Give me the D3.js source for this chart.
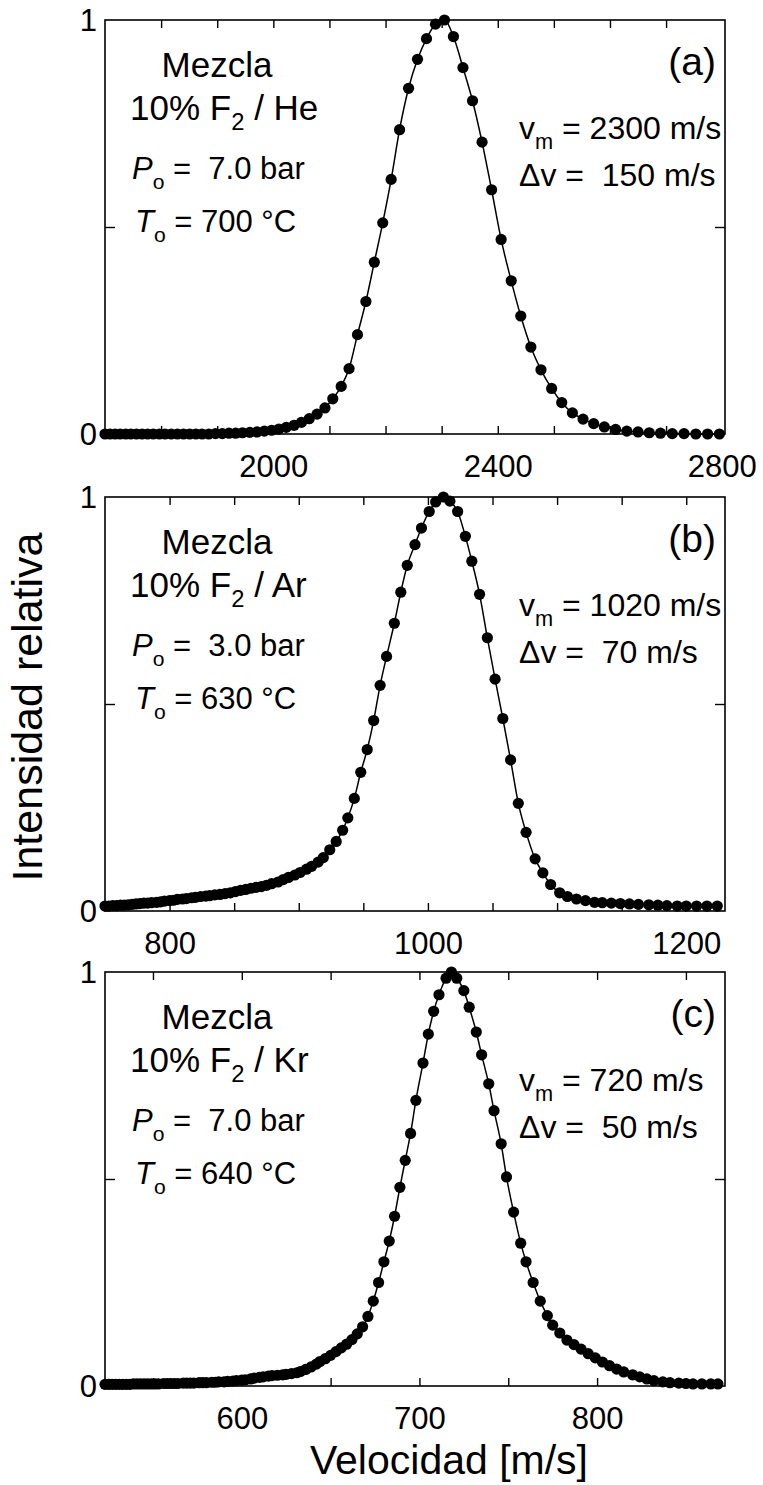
<!DOCTYPE html>
<html>
<head>
<meta charset="utf-8">
<script src="https://cdn.jsdelivr.net/npm/d3@7"></script>
<style>
  body { margin: 0; background: #fff; }
  svg text { font-family: "Liberation Sans", Arial, Helvetica, sans-serif; fill: #000; white-space: pre; }
</style>
</head>
<body>
<svg id="chart" width="763" height="1485"></svg>
<script>
// ---------- data: [velocity m/s, relative intensity] ----------
const seriesA = [
  [1700,0],[1709,0],[1718,0],[1727,0],[1737,0],[1746,0],[1756,0],[1766,0],[1776,0],[1786,0],
  [1797,0],[1807,0],[1818,0],[1829,0],[1840,0],[1851,0],[1862,0],[1873,0],[1885,0],[1897,.001],
  [1909,.001],[1921,.002],[1933,.002],[1945,.003],[1958,.004],[1971,.005],[1984,.007],[1997,.009],
  [2010,.012],[2023,.016],[2037,.021],[2050,.028],[2064,.037],[2078,.048],[2092,.063],[2106,.085],
  [2121,.115],[2135,.158],[2150,.24],[2165,.32],[2180,.415],[2195,.51],[2210,.615],[2225,.735],
  [2241,.835],[2257,.905],[2273,.955],[2289,.99],[2305,1.0],[2321,.96],[2338,.885],[2355,.805],
  [2372,.705],[2389,.59],[2406,.47],[2424,.37],[2441,.285],[2459,.21],[2477,.155],[2496,.11],
  [2514,.076],[2533,.051],[2552,.036],[2571,.025],[2590,.017],[2610,.011],[2630,.007],[2650,.005],
  [2670,.003],[2690,.002],[2711,.001],[2732,.001],[2753,0],[2774,0],[2795,0]
];
const seriesB = [
  [750,.012],[753,.012],[756,.013],[759,.013],[762,.014],[765,.014],[768,.015],[771,.016],[774,.017],
  [777,.018],[780,.019],[783,.019],[786,.020],[790,.021],[793,.022],[796,.024],[800,.025],[803,.026],
  [806,.028],[810,.029],[813,.030],[817,.032],[820,.033],[824,.035],[828,.036],[831,.037],[835,.039],
  [839,.040],[843,.042],[847,.044],[851,.047],[855,.050],[859,.052],[863,.055],[867,.057],[871,.059],
  [875,.062],[879,.066],[884,.070],[888,.076],[892,.081],[897,.087],[901,.093],[906,.101],[910,.108],
  [915,.118],[919,.129],[924,.148],[929,.168],[934,.195],[938,.225],[943,.272],[948,.335],[953,.39],
  [958,.46],[963,.545],[968,.615],[974,.695],[979,.77],[984,.835],[990,.885],[995,.925],[1001,.965],
  [1006,.988],[1012,1.0],[1017,.99],[1023,.965],[1029,.905],[1034,.845],[1040,.765],[1046,.66],
  [1052,.56],[1058,.465],[1064,.365],[1070,.26],[1076,.19],[1083,.126],[1089,.092],[1095,.064],
  [1102,.044],[1108,.035],[1115,.029],[1122,.025],[1129,.021],[1135,.020],[1142,.019],[1149,.018],
  [1156,.017],[1163,.016],[1171,.015],[1178,.014],[1185,.013],[1193,.012],[1200,.012],[1208,.012],
  [1216,.012],[1224,.012]
];
const seriesC = [
  [523,.004],[525,.004],[527,.004],[529,.004],[531,.004],[533,.004],[535,.004],[537,.004],[539,.005],
  [541,.005],[543,.005],[545,.005],[547,.005],[549,.005],[551,.005],[553,.005],[556,.006],[558,.006],
  [560,.006],[562,.006],[564,.006],[567,.007],[569,.007],[571,.007],[573,.007],[576,.008],[578,.008],
  [580,.008],[583,.009],[585,.009],[587,.010],[590,.010],[592,.011],[595,.012],[597,.013],[600,.014],
  [602,.015],[605,.017],[607,.019],[610,.021],[612,.022],[615,.024],[617,.025],[620,.026],[623,.027],
  [625,.028],[628,.030],[631,.032],[633,.035],[636,.040],[639,.046],[642,.053],[644,.059],[647,.066],
  [650,.074],[653,.083],[656,.092],[659,.101],[662,.112],[665,.126],[668,.143],[671,.168],[674,.205],
  [677,.25],[680,.30],[683,.35],[686,.41],[689,.48],[692,.545],[695,.61],[698,.69],[702,.78],
  [705,.85],[708,.905],[711,.945],[715,.985],[718,1.0],[721,.985],[725,.955],[728,.915],[732,.855],
  [735,.80],[739,.73],[742,.665],[746,.585],[749,.505],[753,.42],[757,.345],[760,.30],[764,.25],
  [768,.205],[772,.17],[775,.147],[779,.128],[783,.111],[787,.10],[791,.089],[795,.078],[799,.068],
  [803,.058],[807,.049],[811,.041],[815,.034],[820,.027],[824,.022],[828,.017],[832,.013],[837,.010],
  [841,.008],[846,.007],[850,.006],[854,.005],[859,.005],[864,.005],[868,.005]
];

const panelLetters = ["(a)", "(b)", "(c)"];
const gases = ["He", "Ar", "Kr"];
const pressures = ["7.0", "3.0", "7.0"];
const temperatures = ["700", "630", "640"];
const peakVel = ["2300", "1020", "720"];
const widths = ["150", "70", "50"];
const xDomains = [[1700, 2805], [750, 1230], [523, 872]];
const xLabelTicks = [[2000, 2400, 2800], [800, 1000, 1200], [600, 700, 800]];
const xMinorStep = [100, 50, 50];
const yLabelTicks = [0, 1];
const yMinorTicks = [0.5];

const allSeries = [seriesA, seriesB, seriesC];

// ---------- layout ----------
const svg = d3.select("#chart");
const left = 105, right = 725;
const tops = [20, 497, 972];
const ph = 414;
const font = '"Liberation Sans", Arial, sans-serif';

function richText(g, x, y, parts, size, anchor) {
  const t = g.append("text").attr("x", x).attr("y", y)
    .attr("font-size", size).attr("text-anchor", anchor || "start");
  parts.forEach(p => {
    const s = t.append("tspan").text(p.t);
    if (p.it) s.attr("font-style", "italic");
    if (p.sub) s.attr("font-size", size * 0.68).attr("dy", 10);
    if (p.up) s.attr("dy", -10);
  });
  return t;
}

allSeries.forEach((data, i) => {
  const top = tops[i], bottom = top + ph;
  const x = d3.scaleLinear().domain(xDomains[i]).range([left, right]);
  const y = d3.scaleLinear().domain([0, 1]).range([bottom, top]);
  const g = svg.append("g");

  const [d0, d1] = xDomains[i];
  const minor = d3.range(Math.ceil(d0 / xMinorStep[i]) * xMinorStep[i], d1, xMinorStep[i])
    .filter(v => x(v) > left + 3 && x(v) < right - 3);

  // bottom axis: inward ticks + labels
  const axB = g.append("g").attr("transform", `translate(0,${bottom})`)
    .call(d3.axisBottom(x).tickValues(minor).tickSize(-8).tickFormat(d => xLabelTicks[i].includes(d) ? d : ""));
  axB.select(".domain").remove();
  axB.selectAll("text").attr("y", 43).attr("dy", null)
    .attr("font-size", 31).attr("font-family", font).attr("fill", "#000");
  // labels sitting on the frame edge
  xLabelTicks[i].filter(v => !minor.includes(v)).forEach(v => {
    g.append("text").attr("x", x(v)).attr("y", bottom + 43)
      .attr("text-anchor", "middle").attr("font-size", 31).text(v);
  });

  // top axis: inward ticks only
  const axT = g.append("g").attr("transform", `translate(0,${top})`)
    .call(d3.axisTop(x).tickValues(minor).tickSize(-8).tickFormat(""));
  axT.select(".domain").remove();

  // left / right y ticks
  const axL = g.append("g").attr("transform", `translate(${left},0)`)
    .call(d3.axisLeft(y).tickValues(yMinorTicks).tickSize(-10).tickFormat(""));
  axL.select(".domain").remove();
  const axR = g.append("g").attr("transform", `translate(${right},0)`)
    .call(d3.axisRight(y).tickValues(yMinorTicks).tickSize(-10).tickFormat(""));
  axR.select(".domain").remove();
  g.selectAll(".tick line").attr("stroke", "#000").attr("stroke-width", 1.4);

  yLabelTicks.forEach(v => {
    g.append("text").attr("x", 97).attr("y", y(v) + 11)
      .attr("text-anchor", "end").attr("font-size", 31).text(v);
  });

  // frame
  g.append("rect").attr("x", left).attr("y", top)
    .attr("width", right - left).attr("height", ph)
    .attr("fill", "none").attr("stroke", "#000").attr("stroke-width", 1.6);

  // fit line + points
  const line = d3.line().x(d => x(d[0])).y(d => y(d[1])).curve(d3.curveMonotoneX);
  g.append("path").datum(data).attr("d", line)
    .attr("fill", "none").attr("stroke", "#000").attr("stroke-width", 1.5);
  g.selectAll("circle.pt").data(data).join("circle").attr("class", "pt")
    .attr("cx", d => x(d[0])).attr("cy", d => y(d[1])).attr("r", 5.6).attr("fill", "#000");

  // annotations, left block
  g.append("text").attr("x", 217).attr("y", top + 57).attr("text-anchor", "middle")
    .attr("font-size", 35).text("Mezcla");
  richText(g, 130, top + 100, [{t: "10% F"}, {t: "2", sub: true}, {t: " / " + gases[i], up: true}], 35);
  richText(g, 132, top + 159, [{t: "P", it: true}, {t: "o", sub: true}, {t: " =  " + pressures[i] + " bar", up: true}], 31);
  richText(g, 135, top + 212, [{t: "T", it: true}, {t: "o", sub: true}, {t: " = " + temperatures[i] + " °C", up: true}], 31);

  // annotations, right block
  g.append("text").attr("x", 716).attr("y", top + 55).attr("text-anchor", "end")
    .attr("font-size", 39).text(panelLetters[i]);
  richText(g, 519, top + 119, [{t: "v"}, {t: "m", sub: true}, {t: " = " + peakVel[i] + " m/s", up: true}], 32);
  richText(g, 519, top + 166, [{t: "Δv =  " + widths[i] + " m/s"}], 32);
});

// axis titles
svg.append("text").attr("transform", "translate(42,707) rotate(-90)")
  .attr("text-anchor", "middle").attr("font-size", 43).text("Intensidad relativa");
svg.append("text").attr("x", 449).attr("y", 1474)
  .attr("text-anchor", "middle").attr("font-size", 41).text("Velocidad [m/s]");
</script>
</body>
</html>
